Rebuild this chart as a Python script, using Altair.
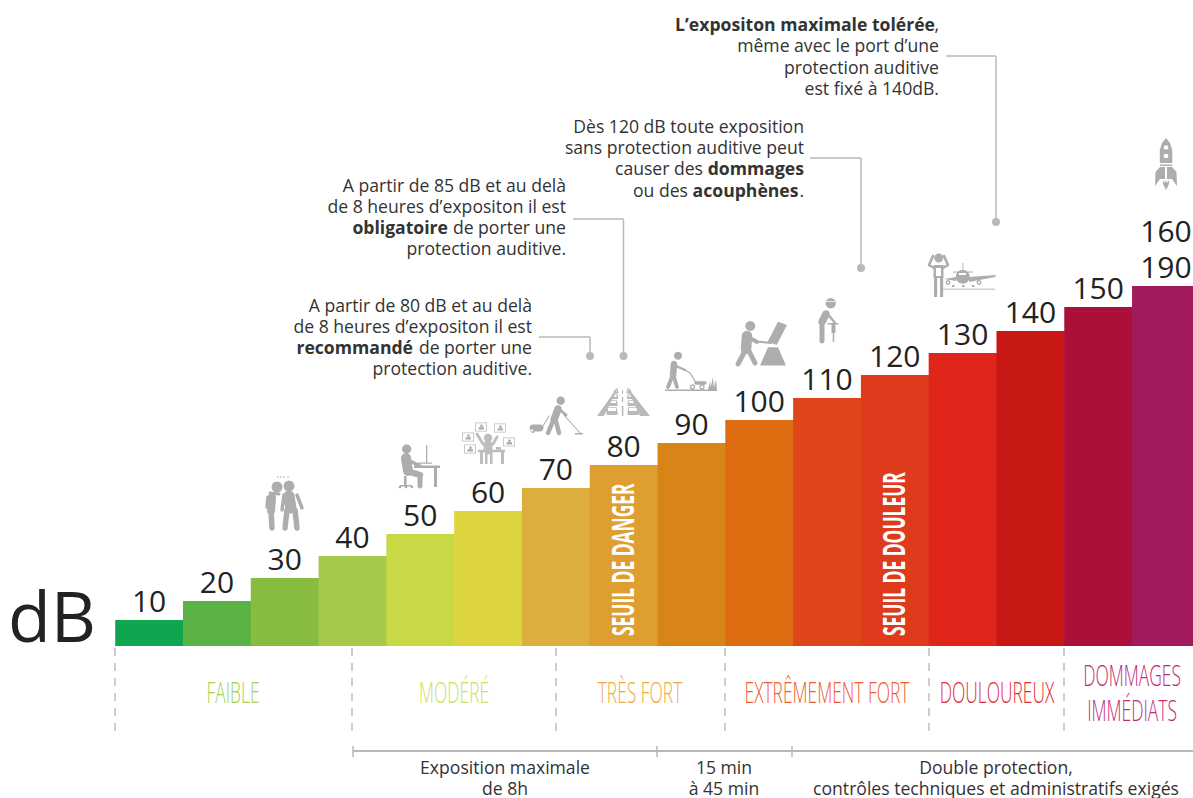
import math
import altair as alt
import pandas as pd

# ---------- data ----------
DB_START = [10, 20, 30, 40, 50, 60, 70, 80, 90, 100, 110, 120, 130, 140, 150, 160]
LABELS = ["10", "20", "30", "40", "50", "60", "70", "80", "90", "100", "110", "120", "130", "140", "150", "190"]
LEVELS = [26, 45, 68, 90, 112, 135, 158, 181, 203, 226, 248, 271, 293, 315, 339, 360]
COLORS = ["#10a64f", "#5ab245", "#87bc40", "#a5ca4a", "#c9d845", "#ddd53e", "#dcae3d", "#df9e30",
          "#d88517", "#dd6b10", "#e0441b", "#de3a1c", "#e0261a", "#c81815", "#ac0f37", "#a11a5c"]
CATEGORIES = [("FAIBLE", 233, 703, "#a5cf4f"), ("MODÉRÉ", 454, 703, "#cedf55"),
              ("TRÈS FORT", 640, 703, "#eda93f"), ("EXTRÊMEMENT FORT", 827, 703, "#f05a30"),
              ("DOULOUREUX", 997, 703, "#e02a35"), ("DOMMAGES", 1132, 686, "#bf2a78"),
              ("IMMÉDIATS", 1132, 721, "#bf2a78")]
DASH_X = [115, 352, 556, 725, 929, 1064]
BRACKET_X = [353, 657, 792]

W, H = 1185, 790
STEP = 67.79
INK = "#333333"
NUM = "#222222"
LINE = "#b9b9b9"
ICON = "#adadad"
SANS = "Open Sans"
BODY = 17.6
SQUEEZE_X = 0.58   # horizontal squeeze of the light condensed labels
SQUEEZE_Y = 0.58   # squeeze along the rotated bold labels

x_scale = alt.Scale(domain=[10 - (115.2 - 8) / STEP * 10, 10 + (W - (115.2 - 8)) / STEP * 10], nice=False, zero=False)
y_scale = alt.Scale(domain=[-152, 638], nice=False, zero=False)

df = pd.DataFrame({"db": DB_START, "end": [d + 10.1 for d in DB_START], "mid": [d + 5 for d in DB_START],
                   "lab": LABELS, "lvl": LEVELS, "col": COLORS, "zero": [0] * 16})

layers = []
narrow_x_layers = []
narrow_y_layers = []
layers.append(alt.Chart(df).mark_rect(clip=True).encode(
    x=alt.X("db:Q", scale=x_scale, axis=None), x2="end:Q",
    y=alt.Y("lvl:Q", scale=y_scale, axis=None), y2="zero:Q",
    color=alt.Color("col:N", scale=None)))
layers.append(alt.Chart(df).mark_text(font=SANS, fontSize=30, color=NUM, dy=-8, baseline="alphabetic").encode(
    x=alt.X("mid:Q", scale=x_scale), y=alt.Y("lvl:Q", scale=y_scale), text="lab:N"))


def T(s, x, y, size=BODY, color=INK, align="right", weight="normal", font=SANS, angle=0, sx=1.0, sy=1.0):
    kw = dict(font=font, fontSize=size, color=color, align=align, fontWeight=weight,
              baseline="alphabetic", angle=angle)
    if sx != 1.0:
        narrow_x_layers.append(len(layers))
    if sy != 1.0:
        narrow_y_layers.append(len(layers))
    layers.append(alt.Chart(pd.DataFrame({"t": [s]})).mark_text(**kw).encode(
        text="t:N", x=alt.value((x - 8) / sx), y=alt.value((y - 8) / sy)))


def HL(x1, x2, y, w=1.5, color=LINE, dash=None):
    kw = dict(color=color, strokeWidth=w)
    if dash:
        kw["strokeDash"] = dash
    layers.append(alt.Chart(pd.DataFrame({"a": [0]})).mark_rule(**kw).encode(
        x=alt.value(x1 - 8), x2=alt.value(x2 - 8), y=alt.value(y - 8)))


def VL(x, y1, y2, w=1.5, color=LINE, dash=None):
    kw = dict(color=color, strokeWidth=w)
    if dash:
        kw["strokeDash"] = dash
    layers.append(alt.Chart(pd.DataFrame({"a": [0]})).mark_rule(**kw).encode(
        x=alt.value(x - 8), y=alt.value(y1 - 8), y2=alt.value(y2 - 8)))


def DOT(x, y, r=4):
    layers.append(alt.Chart(pd.DataFrame({"a": [0]})).mark_point(
        filled=True, color=LINE, opacity=1, size=(2 * r) ** 2, shape="circle").encode(
        x=alt.value(x - 8), y=alt.value(y - 8)))


# ---------- annotations ----------
T("dB", 8, 642, size=70, color=NUM, align="left")
T("160", 1166, 242, size=30, color=NUM, align="center")

T("L’expositon maximale tolérée", 935, 31, weight="bold")
T(",", 939, 31)
T("même avec le port d’une", 939, 52)
T("protection auditive", 939, 73.5)
T("est fixé à 140dB.", 939, 95)

T("Dès 120 dB toute exposition", 804, 133)
T("sans protection auditive peut", 804, 154)
T("causer des", 703, 175)
T("dommages", 804, 175, weight="bold")
T("ou des", 688, 196.5)
T("acouphènes", 798.5, 196.5, weight="bold")
T(".", 804, 196.5)

T("A partir de 85 dB et au delà", 566, 192)
T("de 8 heures d’expositon il est", 566, 213)
T("obligatoire", 448, 234, weight="bold")
T("de porter une", 566, 234)
T("protection auditive.", 566, 255)

T("A partir de 80 dB et au delà", 532, 312)
T("de 8 heures d’expositon il est", 532, 333)
T("recommandé", 413, 354, weight="bold")
T("de porter une", 532, 354)
T("protection auditive.", 532, 375)

for x1, x2, y, yd in [(539, 590, 337, 356), (573, 623.5, 219, 356), (810, 861, 158, 268), (946, 996, 56, 222)]:
    HL(x1, x2, y)
    VL(x2, y, yd)
    DOT(x2, yd)

for x in DASH_X:
    VL(x, 648, 731, w=1.5, color="#bdbdbd", dash=[8, 7])

for s, x, y, c in CATEGORIES:
    T(s, x, y, size=30, color=c, align="center", weight=300, sx=SQUEEZE_X)

T("SEUIL DE DANGER", 634, 636, size=30, color="#ffffff", align="left", weight=700, angle=270, sy=SQUEEZE_Y)
T("SEUIL DE DOULEUR", 905, 636, size=30, color="#ffffff", align="left", weight=700, angle=270, sy=SQUEEZE_Y)

HL(353, 1193, 751, w=2)
for x in BRACKET_X:
    VL(x, 746, 757, w=1.5)

T("Exposition maximale", 505, 774, align="center")
T("de 8h", 505, 795, align="center")
T("15 min", 724, 774, align="center")
T("à 45 min", 724, 795, align="center")
T("Double protection,", 996, 774, align="center")
T("contrôles techniques et administratifs exigés", 996, 795, align="center")


# ---------- icons: silhouettes built as one SVG path per icon ----------
def norm(p, hole=False):
    a = sum(p[i][0] * p[(i + 1) % len(p)][1] - p[(i + 1) % len(p)][0] * p[i][1] for i in range(len(p)))
    if (a < 0) != hole:
        p = p[::-1]
    return p


def circ(x, y, r):
    return [(x + r * math.cos(i * math.pi / 8), y + r * math.sin(i * math.pi / 8)) for i in range(16)]


def limb(pts, w):
    out = []
    for (x1, y1), (x2, y2) in zip(pts, pts[1:]):
        d = math.hypot(x2 - x1, y2 - y1) or 1
        nx, ny = -(y2 - y1) / d * w / 2, (x2 - x1) / d * w / 2
        out.append([(x1 + nx, y1 + ny), (x2 + nx, y2 + ny), (x2 - nx, y2 - ny), (x1 - nx, y1 - ny)])
    for (x, y) in pts:
        out.append(circ(x, y, w / 2))
    return out


def rect(x, y, w, h):
    return [(x, y), (x + w, y), (x + w, y + h), (x, y + h)]


def icon(cx, cy, solids, holes=(), color=ICON):
    d = ""
    for polys, hole in ((solids, False), (holes, True)):
        for p in polys:
            p = norm(p, hole)
            d += "M" + "L".join(f"{x - cx:.2f},{y - cy:.2f}" for x, y in p) + "Z"
    layers.append(alt.Chart(pd.DataFrame({"a": [0]})).mark_point(
        shape=d, size=4, filled=True, color=color, opacity=1, strokeWidth=0).encode(
        x=alt.value(cx - 8), y=alt.value(cy - 8)))


# whisper
s = [circ(277, 487, 5.5), circ(289, 486, 5.5)]
s += limb([(289, 496), (291, 508)], 11) + limb([(287, 510), (285, 528)], 5.5) + limb([(295, 510), (297, 528)], 5.5)
s += limb([(284, 495), (282, 510)], 3.5) + limb([(297, 495), (302, 508)], 3.5)
s += limb([(272, 497), (271, 511)], 8) + limb([(271, 511), (272, 528)], 5.5) + limb([(268, 497), (267, 507)], 3.5)
s += limb([(270, 493), (279, 494)], 3)
s += [circ(x, 477, 0.8) for x in (278, 281, 284, 288)]
icon(285, 500, s)

# desk worker
s = [circ(406.7, 449, 4.7)]
s += limb([(406, 458), (408, 471)], 10) + limb([(410, 472), (420, 475)], 6.5) + limb([(420, 475), (420, 486)], 5)
s += limb([(408, 460), (420, 466)], 3.5)
s += [rect(414, 465.5, 26, 2.5), rect(434, 467, 3, 20), rect(426, 445, 1.3, 18), rect(418, 462.5, 14, 1.3)]
s += [rect(404, 476, 2.5, 9), rect(400, 485, 12, 1.5), circ(400, 487, 1.3), circ(406, 487, 1.3), circ(412, 487, 1.3)]
icon(420, 466, s)

# social network worker
s = [circ(488, 438, 4.2)] + limb([(488, 445), (488, 450)], 9)
s += [rect(478, 449.7, 27, 2.5), rect(480, 451, 3, 13), rect(501, 451, 3, 13), rect(485, 452, 2.5, 12), rect(490, 452, 2.5, 12)]
s += limb([(483, 444), (477, 434)], 2.8) + limb([(493, 444), (497, 437)], 2.8) + [rect(496, 447, 5, 2.5)]
h = []
for bx, by in [(481, 427), (500, 428), (468, 437), (509, 442), (470, 449)]:
    s += [rect(bx - 6, by - 4.5, 12, 9)]
    h += [rect(bx - 5.2, by - 3.7, 10.4, 7.4)]
icon(488, 445, s, h, color="#bdbdbd")
t = []
for bx, by in [(481, 427), (500, 428), (468, 437), (509, 442), (470, 449)]:
    t += [circ(bx + 0.5, by - 1.2, 1.4), rect(bx - 2.5, by + 0.2, 5.5, 2.2)]
icon(488, 445, t)

# vacuum cleaner
s = [circ(560.7, 400.7, 4.2)] + limb([(558, 409), (554, 420)], 7.5)
s += limb([(553, 421), (548, 433)], 4.5) + limb([(556, 421), (559, 433)], 4.5) + limb([(559, 409), (566, 415)], 2.8)
s += limb([(564, 415), (581, 434)], 1.1) + [rect(575, 433, 8, 1.6)]
s += limb([(533, 428), (540, 428)], 7) + limb([(543, 426), (549, 416)], 1)
icon(556, 418, s, [circ(533, 431, 2)])

# traffic
s = [[(597, 416), (617, 388), (618, 388), (604, 416)], [(650, 416), (628, 388), (627, 388), (640, 416)],
     rect(622, 390, 1, 4), rect(622, 397, 1.2, 5), rect(621.8, 406, 1.6, 10)]
h = []
for y, w, hh, off in [(407, 11, 8, 4), (400, 9, 6, 4), (394, 7, 5, 3.5), (389.5, 5, 4, 3)]:
    for sgn in (-1, 1):
        x = 622.5 + sgn * (off + w / 2 + 1)
        s += [[(x - w / 2 + 1, y), (x + w / 2 - 1, y), (x + w / 2, y + hh * 0.6), (x + w / 2, y + hh), (x - w / 2, y + hh), (x - w / 2, y + hh * 0.6)]]
        h += [rect(x - w / 2 + 1.5, y + 0.7, w - 3, hh * 0.4)]
icon(623, 402, s, h, color="#b9b9b9")

# lawnmower
s = [circ(678, 355.7, 4)] + limb([(674, 364), (673, 376)], 6.5)
s += limb([(672, 377), (668, 387)], 3.8) + limb([(674, 377), (677, 387)], 3.8)
s += limb([(676, 366), (685, 370)], 2.4) + limb([(685, 370), (690, 373), (696, 383)], 1.3)
s += limb([(696, 383), (705, 383)], 3.5) + [rect(665, 389.5, 52, 1.5)]
s += [[(708, 390), (710, 381), (711, 390)], [(710, 390), (713, 377), (714, 390)], [(713, 390), (716, 380), (717, 390)]]
s += [circ(692.5, 387, 2.7), circ(702, 387, 2.7)]
icon(690, 373, s, [circ(692.5, 387, 1.3), circ(702, 387, 1.3)])

# chainsaw and tree
s = [circ(750.3, 326, 5)] + limb([(747, 336), (746, 349)], 10.5)
s += limb([(745, 351), (738, 364)], 5) + limb([(749, 351), (755, 363)], 5) + limb([(750, 338), (757, 342)], 4)
s += limb([(757, 341.5), (771, 343)], 2)
s += [[(768, 347.3), (778, 347.3), (786, 365.5), (760, 365.5)], [(778, 321.7), (787, 325), (776.7, 345), (767.7, 341.7)]]
icon(762, 344, s)

# jackhammer
s = [circ(830.7, 303.3, 5.2)] + limb([(826, 314), (822, 322)], 7.5)
s += limb([(822, 325), (822, 341)], 5) + limb([(827, 313), (835, 323)], 2.4)
s += [rect(827.5, 323, 11, 1.5), rect(831.5, 323, 4, 10), rect(832.7, 333, 1.5, 9)]
icon(828, 322, s, [rect(826, 301, 10, 0.8)])

# airport worker and plane
s = [circ(938.7, 258, 4.5)]
s += limb([(934, 268), (929, 265), (933, 256)], 2.6) + limb([(943, 268), (948, 265), (944, 256)], 2.6)
s += [rect(933.5, 265, 10, 13), rect(934, 278, 3.2, 19), rect(940, 278, 3.2, 19)]
s += [circ(962.7, 276.7, 7)] + [[(956, 277), (944, 279), (956, 281)], [(969, 277), (996, 275), (995, 277), (969, 282)]]
s += [rect(962.5, 263, 0.9, 8), rect(953, 271.5, 20, 0.9)]
s += [circ(948, 282.5, 2.4), circ(979, 282.5, 2.4)]
s += [rect(952, 285, 2.4, 2), rect(962, 285, 2.4, 2), rect(972, 285, 2.4, 2)]
icon(950, 275, s, [rect(936, 268, 5, 8), circ(948, 282.5, 1.1), circ(979, 282.5, 1.1), rect(959, 273, 7, 2)])
icon(970, 289, [rect(943, 288.6, 52, 1.5)], color="#cfcfcf")

# rocket
s = [[(1166, 138), (1170, 143), (1172.3, 150), (1172.3, 163), (1159.8, 163), (1159.8, 150), (1162, 143)]]
s += [rect(1160, 164.5, 12.3, 1.5)]
s += [[(1160, 167), (1155.5, 172), (1155, 186), (1160, 179), (1165, 179), (1165, 167)],
      [(1172, 167), (1176.5, 172), (1177, 186), (1172, 179), (1167, 179), (1167, 167)]]
s += [[(1163, 180), (1165, 183), (1166, 180), (1167, 183), (1169, 180), (1169, 184), (1166, 190), (1163, 184)]]
icon(1166, 163, s, [circ(1166, 147.5, 2.3), circ(1166, 156, 2.3)])

sel_x = ",".join(f".layer_{i}_marks text" for i in narrow_x_layers)
sel_y = ",".join(f".layer_{i}_marks text" for i in narrow_y_layers)
PAGE_CSS = ("html,body{height:798px;overflow:hidden}"
            "body{margin:8px 0 0 8px;box-sizing:border-box}"
            "svg{display:block}"
            f"{sel_x}{{scale:{SQUEEZE_X} 1}}"
            f"{sel_y}{{scale:1 {SQUEEZE_Y}}}")

chart = alt.layer(*layers).properties(width=W, height=H, padding=0, autosize="none").configure_view(stroke=None)
chart.save("out.html", embed_options={"renderer": "svg", "actions": False, "defaultStyle": PAGE_CSS})
